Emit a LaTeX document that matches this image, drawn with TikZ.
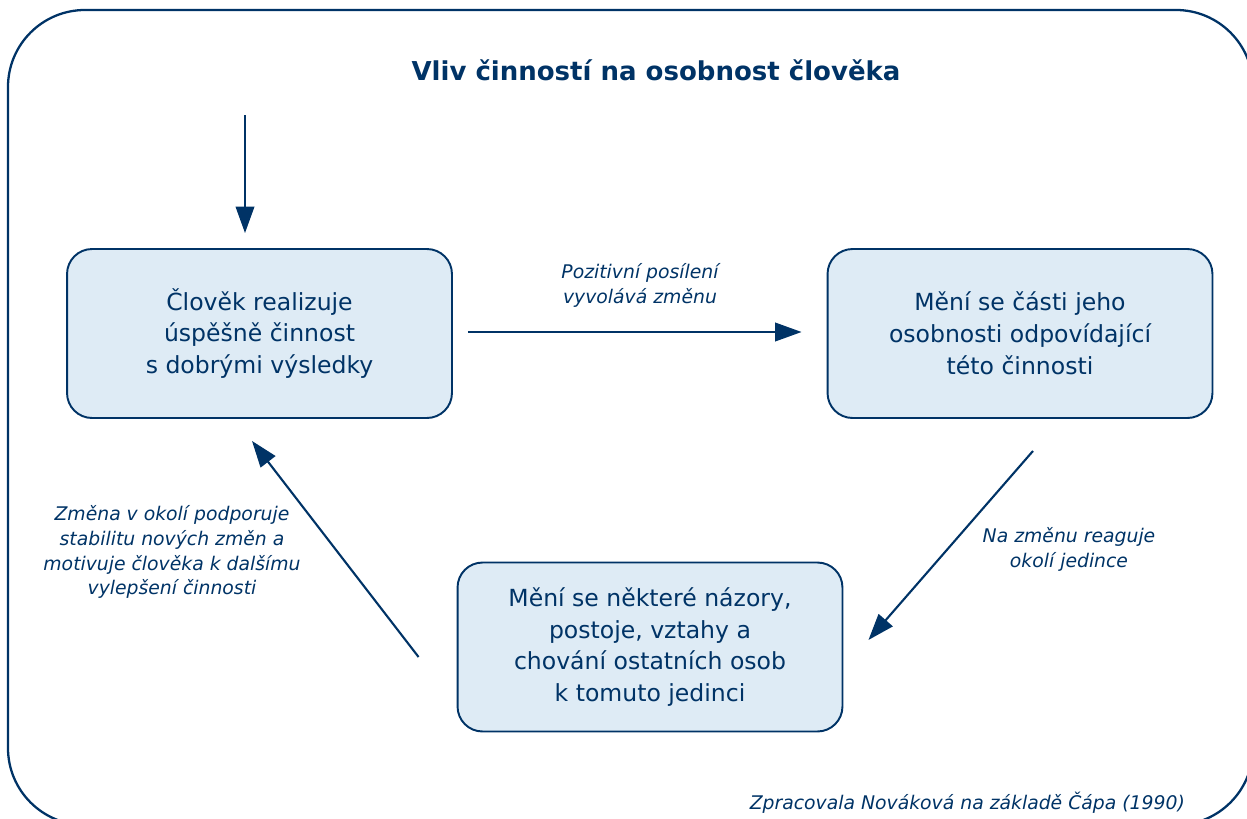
\documentclass[tikz,border=0pt]{standalone}
\usepackage{fontspec}
\setmainfont{DejaVu Sans}
\usetikzlibrary{arrows.meta}
\definecolor{navy}{RGB}{0,51,102}
\definecolor{boxfill}{RGB}{222,235,245}

\begin{document}
\begin{tikzpicture}[x=0.02cm, y=-0.02cm,
    block/.style={draw=navy, fill=boxfill, line width=1.1pt, rounded corners=0.5cm, minimum width=7.7cm, minimum height=3.38cm, align=center, text=navy, font=\fontsize{13.4}{18.1}\selectfont},
    note/.style={text=navy, align=center, font=\fontsize{10.7}{14.2}\selectfont\itshape},
    link/.style={draw=navy, line width=1.2pt, -{Triangle[length=15pt, width=10.5pt]}}]
                \useasboundingbox (0,0) rectangle (1247,818);
                \clip (0,0) rectangle (1247,818);
                \draw[navy, line width=1.3pt, rounded corners=1.54cm] (8,10) rectangle (1253,825);

                \node[text=navy, font=\fontsize{14.8}{18}\selectfont\bfseries] (title) at (656,70) {Vliv činností na osobnost člověka};

                \node[block] (act) at (259.5,333.5) {Člověk realizuje\\úspěšně činnost\\s dobrými výsledky};
                \node[block] (self) at (1020,333.5) {Mění se části jeho\\osobnosti odpovídající\\této činnosti};
                \node[block] (env) at (650,647) {Mění se některé názory,\\postoje, vztahy a\\chování ostatních osob\\k tomuto jedinci};

                \coordinate (start) at (245,115);
                \draw[link] (start) -- ([shift={(-14.5,-15)}]act.north);
                \draw[link] ([shift={(15,-1.5)}]act.east) -- ([shift={(-25,-1.5)}]self.west);
                \draw[link] ([shift={(13,32)}]self.south) -- ([shift={(25,-7)}]env.east);
                \draw[link] ([shift={(-38,10)}]env.west) -- ([shift={(-7.5,22)}]act.south);

                \node[note] (push) at (640,285) {Pozitivní posílení\\vyvolává změnu};
                \node[note] (react) at (1069,549) {Na změnu reaguje\\okolí jedince};
                \node[note] (back) at (172,552) {Změna v okolí podporuje\\stabilitu nových změn a\\motivuje člověka k dalšímu\\vylepšení činnosti};
                \node[note, anchor=east] (source) at (1191,803) {Zpracovala Nováková na základě Čápa (1990)};
\end{tikzpicture}
\end{document}
